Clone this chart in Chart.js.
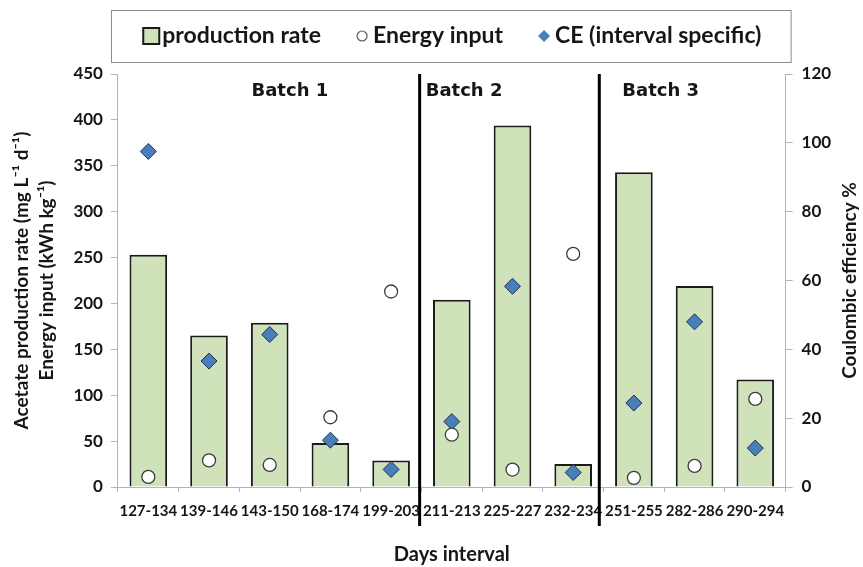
<!DOCTYPE html>
<html>
<head>
<meta charset="utf-8">
<script src="https://cdn.jsdelivr.net/npm/chart.js@4.4.1/dist/chart.umd.min.js"></script>
<style>
  html, body { margin: 0; padding: 0; background: #ffffff; }
  #wrap { width: 863px; height: 567px; }
</style>
</head>
<body>
<div id="wrap"><canvas id="chart" width="863" height="567"></canvas></div>
<script>
// Sampling intervals (days) and measured values per interval
const intervals = ['127-134', '139-146', '143-150', '168-174', '199-203', '211-213',
                   '225-227', '232-234', '251-255', '282-286', '290-294'];
const productionRate = [253, 165, 179, 48, 29, 204, 394, 25, 343, 219, 117];      // mg L-1 d-1
const energyInput = [11, 29, 24, 76, 213, 57, 19, 254, 10, 23, 96];              // kWh kg-1
const coulombicEfficiency = [97.5, 36.6, 44.3, 13.6, 5.1, 19.0, 58.3, 4.2, 24.4, 48.0, 11.3]; // %

// Axis ranges
const leftAxis = { min: 0, max: 450, step: 50 };
const rightAxis = { min: 0, max: 120, step: 20 };

// Batch annotations: label, category position of the text start, and divider positions
const batchNames = ['Batch 1', 'Batch 2', 'Batch 3'];
const batchTextAt = [1.70, 4.57, 7.81];
const batchDividers = [4.47, 7.43];
const batchTextLevel = 431;

const FONT = 'Lato, "Liberation Sans", sans-serif';
const INK = '#161616';

function legendMarker(kind) {
  const c = document.createElement('canvas');
  c.width = 22; c.height = 22;
  const g = c.getContext('2d');
  if (kind === 'rect') {
    g.fillStyle = '#cfe2ba'; g.strokeStyle = '#1b1b1b'; g.lineWidth = 2;
    g.fillRect(3, 3, 16, 16); g.strokeRect(3, 3, 16, 16);
  } else if (kind === 'circle') {
    g.fillStyle = '#ffffff'; g.strokeStyle = '#555555'; g.lineWidth = 1.2;
    g.beginPath(); g.arc(11, 11, 5, 0, Math.PI * 2); g.fill(); g.stroke();
  } else {
    g.fillStyle = '#4a7ebb';
    g.beginPath(); g.moveTo(11, 5); g.lineTo(17, 11); g.lineTo(11, 17); g.lineTo(5, 11); g.closePath(); g.fill();
  }
  return c;
}

const boxedLegend = {
  id: 'boxedLegend',
  afterDraw(chart) {
    const { ctx, chartArea } = chart;
    const left = chartArea.left - 7, right = chartArea.right + 5, top = 10, bottom = 62;
    ctx.save();
    ctx.strokeStyle = '#8c8c8c'; ctx.lineWidth = 1;
    ctx.strokeRect(left + 0.5, top + 0.5, right - left, bottom - top);
    ctx.font = 'bold 23px ' + FONT;
    ctx.textBaseline = 'middle';
    ctx.fillStyle = INK;
    const markers = ['rect', 'circle', 'diamond'];
    const items = chart.data.datasets.map((d, i) => ({ text: d.label, img: legendMarker(markers[i]) }));
    const markGap = 22, itemGap = 30;
    const widths = items.map(it => markGap + ctx.measureText(it.text).width);
    const total = widths.reduce((a, b) => a + b, 0) + itemGap * (items.length - 1);
    let x = (left + right) / 2 - total / 2;
    const cy = (top + bottom) / 2;
    items.forEach((it, i) => {
      ctx.drawImage(it.img, x, cy - 11);
      ctx.fillText(it.text, x + markGap, cy);
      x += widths[i] + itemGap;
    });
    ctx.restore();
  }
};

const batchMarks = {
  id: 'batchMarks',
  afterDatasetsDraw(chart) {
    const { ctx, chartArea, scales } = chart;
    ctx.save();
    ctx.strokeStyle = '#000000'; ctx.lineWidth = 3;
    batchDividers.forEach(p => {
      const x = scales.x.getPixelForValue(p);
      ctx.beginPath(); ctx.moveTo(x, chartArea.top); ctx.lineTo(x, chartArea.bottom + 39); ctx.stroke();
    });
    ctx.font = 'bold 18px "DejaVu Sans", sans-serif';
    ctx.fillStyle = INK; ctx.textAlign = 'left'; ctx.textBaseline = 'middle';
    batchNames.forEach((name, i) => {
      ctx.fillText(name, scales.x.getPixelForValue(batchTextAt[i]), scales.y.getPixelForValue(batchTextLevel));
    });
    ctx.restore();
  },
  afterDraw(chart) {
    // right-hand title, reading bottom to top
    const { ctx, chartArea, scales } = chart;
    const s = scales.y1;
    ctx.save();
    ctx.font = 'bold 19px ' + FONT;
    ctx.fillStyle = INK; ctx.textAlign = 'center'; ctx.textBaseline = 'middle';
    ctx.translate(s.right - 13, (chartArea.top + chartArea.bottom) / 2);
    ctx.rotate(-Math.PI / 2);
    ctx.fillText(s.options.title.text, 0, 0);
    ctx.restore();
  }
};

new Chart(document.getElementById('chart'), {
  data: {
    labels: intervals,
    datasets: [
      {
        type: 'bar', label: 'production rate', data: productionRate, yAxisID: 'y', order: 3,
        backgroundColor: '#cfe2ba', borderColor: '#1b1b1b', borderWidth: 2,
        categoryPercentage: 1, barPercentage: 0.62
      },
      {
        type: 'line', label: 'Energy input', data: energyInput, yAxisID: 'y', order: 1,
        showLine: false, pointStyle: 'circle', pointRadius: 6.5,
        pointBackgroundColor: '#ffffff', pointBorderColor: '#3c3c3c', pointBorderWidth: 1.3
      },
      {
        type: 'line', label: 'CE (interval specific)', data: coulombicEfficiency, yAxisID: 'y1', order: 2,
        showLine: false, pointStyle: 'rectRot', pointRadius: 8,
        pointBackgroundColor: '#4a7ebb', pointBorderColor: '#1f3350', pointBorderWidth: 1
      }
    ]
  },
  options: {
    responsive: false,
    animation: false,
    devicePixelRatio: 1,
    layout: { padding: { top: 74, left: 10, right: 0, bottom: 0 } },
    plugins: { legend: { display: false }, tooltip: { enabled: false } },
    scales: {
      x: {
        type: 'category',
        offset: true,
        grid: { drawOnChartArea: false, color: '#b4b4b4', tickLength: 5, offset: true },
        border: { color: '#b4b4b4', width: 1 },
        ticks: { autoSkip: false, maxRotation: 0, padding: 10, color: INK, font: { family: FONT, weight: 'bold', size: 15 } },
        title: { display: true, text: 'Days interval', color: INK, font: { family: FONT, weight: 'bold', size: 20 }, padding: { top: 13, bottom: 0 } }
      },
      y: {
        position: 'left', min: leftAxis.min, max: leftAxis.max,
        grid: { drawOnChartArea: false, color: '#b4b4b4', tickLength: 7 },
        border: { color: '#b4b4b4', width: 1 },
        ticks: { stepSize: leftAxis.step, padding: 8, color: INK, font: { family: FONT, weight: 'bold', size: 17 } },
        title: {
          display: true,
          text: ['Acetate production rate (mg L\u207B\u00B9 d\u207B\u00B9)', 'Energy input (kWh kg\u207B\u00B9)'],
          color: INK, font: { family: FONT, weight: 'bold', size: 19, lineHeight: 1.3 }, padding: { top: 0, bottom: 6 }
        }
      },
      y1: {
        position: 'right', min: rightAxis.min, max: rightAxis.max,
        grid: { drawOnChartArea: false, color: '#b4b4b4', tickLength: 7 },
        border: { color: '#b4b4b4', width: 1 },
        ticks: { stepSize: rightAxis.step, padding: 9, color: INK, font: { family: FONT, weight: 'bold', size: 17 } },
        title: { display: true, text: 'Coulombic efficiency %', color: 'rgba(0,0,0,0)', font: { family: FONT, weight: 'bold', size: 19 }, padding: { top: 0, bottom: 0 } }
      }
    }
  },
  plugins: [boxedLegend, batchMarks]
});
</script>
</body>
</html>
